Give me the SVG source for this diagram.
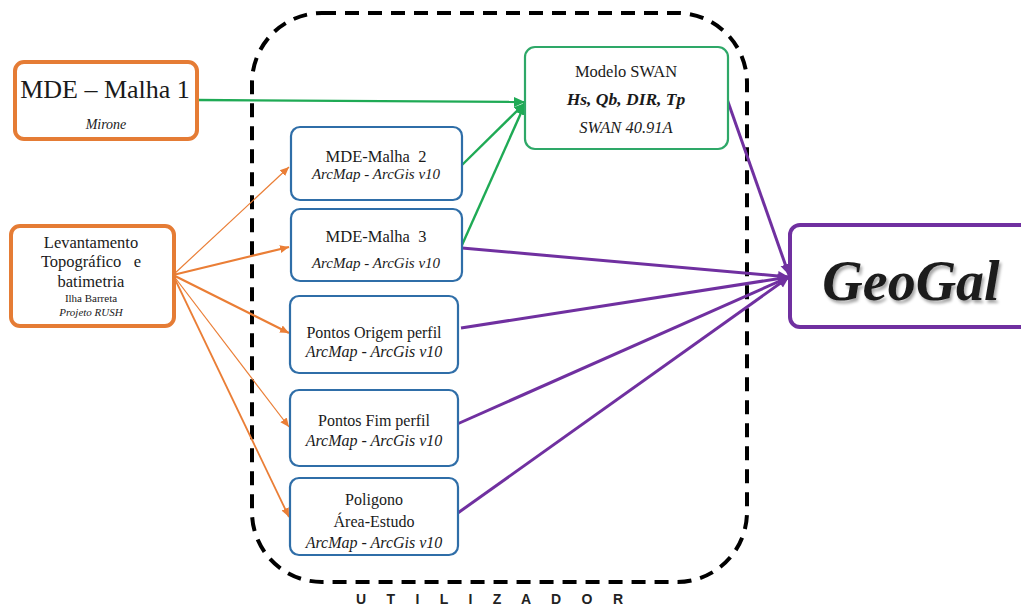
<svg xmlns="http://www.w3.org/2000/svg" width="1021" height="605" viewBox="0 0 1021 605">
  <style>
    .tx { font-family: 'Liberation Serif', 'Times New Roman', 'DejaVu Serif', serif; fill: #1a1a1a; }
    .it { font-style: italic; }
    .orange { fill: #ffffff; stroke: #e57c35; stroke-width: 4; }
    .blue { fill: #ffffff; stroke: #2f6ea8; stroke-width: 2.2; }
    .green { fill: #ffffff; stroke: #2ea868; stroke-width: 2.2; }
    .purple { fill: #ffffff; stroke: #7030a0; stroke-width: 4; }
    .c-or { stroke: #ea7e36; fill: none; }
    .c-gr { stroke: #1faa55; stroke-width: 2.4; fill: none; }
    .c-pu { stroke: #7030a0; stroke-width: 3; fill: none; }
  </style>
  <defs>
    <marker id="ah-or" markerUnits="userSpaceOnUse" markerWidth="10" markerHeight="10" refX="9" refY="5" orient="auto">
      <path d="M0,1 L9,5 L0,9 z" fill="#ea7e36"/>
    </marker>
    <marker id="ah-gr" markerUnits="userSpaceOnUse" markerWidth="12" markerHeight="12" refX="11" refY="6" orient="auto">
      <path d="M0,1 L11,6 L0,11 z" fill="#1faa55"/>
    </marker>
    <marker id="ah-pu" markerUnits="userSpaceOnUse" markerWidth="12" markerHeight="12" refX="11" refY="6" orient="auto">
      <path d="M0,1 L11,6 L0,11 z" fill="#7030a0"/>
    </marker>
    <filter id="shadow" x="-10%" y="-20%" width="130%" height="150%">
      <feDropShadow dx="2" dy="3" stdDeviation="1.5" flood-color="#000" flood-opacity="0.35"/>
    </filter>
  </defs>

  <rect width="1021" height="605" fill="#ffffff"/>

  <!-- user boundary -->
  <g id="utilizador">
    <rect x="252" y="13" width="495" height="569" rx="70" ry="70" fill="none" stroke="#000" stroke-width="4" stroke-dasharray="14 9"/>
    <text x="356" y="604" textLength="267" lengthAdjust="spacing" font-family="'Liberation Sans', Arial, sans-serif" font-size="14" font-weight="bold" fill="#222">U T I L I Z A D O R</text>
  </g>

  <!-- connectors -->
  <g id="connectors">
    <line class="c-or" x1="173" y1="275" x2="289" y2="167" stroke="#f2b48a" stroke-width="1.2" marker-end="url(#ah-or)"/>
    <line class="c-or" x1="173" y1="275" x2="289" y2="247" stroke-width="2.2" marker-end="url(#ah-or)"/>
    <line class="c-or" x1="173" y1="275" x2="289" y2="333" stroke-width="2.2" marker-end="url(#ah-or)"/>
    <line class="c-or" x1="173" y1="275" x2="289" y2="427" stroke="#f0b088" stroke-width="1.2" marker-end="url(#ah-or)"/>
    <line class="c-or" x1="173" y1="275" x2="289" y2="517" stroke-width="1.8" marker-end="url(#ah-or)"/>

    <line class="c-gr" x1="197" y1="100" x2="525" y2="102" marker-end="url(#ah-gr)"/>
    <line class="c-gr" x1="462" y1="165" x2="525" y2="103" marker-end="url(#ah-gr)"/>
    <line class="c-gr" x1="462" y1="245" x2="525" y2="104" marker-end="url(#ah-gr)"/>

    <line class="c-pu" x1="727" y1="99" x2="789" y2="275" marker-end="url(#ah-pu)"/>
    <line class="c-pu" x1="462" y1="248" x2="789" y2="277" marker-end="url(#ah-pu)"/>
    <line class="c-pu" x1="461" y1="328" x2="789" y2="277" marker-end="url(#ah-pu)"/>
    <line class="c-pu" x1="455" y1="425" x2="789" y2="277" marker-end="url(#ah-pu)"/>
    <line class="c-pu" x1="455" y1="515" x2="789" y2="277" marker-end="url(#ah-pu)"/>
  </g>

  <g id="mde-malha-1">
    <rect class="orange" x="15" y="62" width="182" height="77" rx="9"/>
    <text class="tx" x="105" y="98" font-size="26" text-anchor="middle">MDE – Malha 1</text>
    <text class="tx it" x="106" y="129" font-size="14" text-anchor="middle">Mirone</text>
  </g>

  <g id="levantamento">
    <rect class="orange" x="11" y="226" width="163" height="100" rx="9"/>
    <text class="tx" x="91" y="248" font-size="16.5" text-anchor="middle">Levantamento</text>
    <text class="tx" x="91" y="267" font-size="16.5" text-anchor="middle" xml:space="preserve">Topográfico   e</text>
    <text class="tx" x="91" y="287" font-size="16.5" text-anchor="middle">batimetria</text>
    <text class="tx" x="91" y="302" font-size="11" text-anchor="middle">Ilha Barreta</text>
    <text class="tx it" x="91" y="316" font-size="11" text-anchor="middle">Projeto RUSH</text>
  </g>

  <g id="mde-malha-2">
    <rect class="blue" x="291" y="127" width="171" height="73" rx="9"/>
    <text class="tx" x="376" y="162" font-size="16.5" text-anchor="middle" xml:space="preserve">MDE-Malha  2</text>
    <text class="tx it" x="376" y="179" font-size="15" text-anchor="middle">ArcMap - ArcGis v10</text>
  </g>

  <g id="mde-malha-3">
    <rect class="blue" x="291" y="209" width="171" height="72" rx="9"/>
    <text class="tx" x="376" y="242" font-size="16.5" text-anchor="middle" xml:space="preserve">MDE-Malha  3</text>
    <text class="tx it" x="376" y="268" font-size="15" text-anchor="middle">ArcMap - ArcGis v10</text>
  </g>

  <g id="pontos-origem">
    <rect class="blue" x="290" y="296" width="168" height="77" rx="9"/>
    <text class="tx" x="374" y="338" font-size="16" text-anchor="middle">Pontos Origem perfil</text>
    <text class="tx it" x="374" y="357" font-size="16" text-anchor="middle">ArcMap - ArcGis v10</text>
  </g>

  <g id="pontos-fim">
    <rect class="blue" x="290" y="390" width="168" height="76" rx="9"/>
    <text class="tx" x="374" y="426" font-size="16" text-anchor="middle">Pontos Fim perfil</text>
    <text class="tx it" x="374" y="446" font-size="16" text-anchor="middle">ArcMap - ArcGis v10</text>
  </g>

  <g id="poligono">
    <rect class="blue" x="290" y="478" width="168" height="77" rx="9"/>
    <text class="tx" x="374" y="505" font-size="16" text-anchor="middle">Poligono</text>
    <text class="tx" x="374" y="527" font-size="16" text-anchor="middle">Área-Estudo</text>
    <text class="tx it" x="374" y="548" font-size="16" text-anchor="middle">ArcMap - ArcGis v10</text>
  </g>

  <g id="modelo-swan">
    <rect class="green" x="525" y="47" width="203" height="102" rx="10"/>
    <text class="tx" x="626" y="77" font-size="16.5" text-anchor="middle">Modelo SWAN</text>
    <text class="tx it" x="626" y="105" font-size="17.5" font-weight="bold" text-anchor="middle">Hs, Qb, DIR, Tp</text>
    <text class="tx it" x="626" y="133" font-size="16.5" text-anchor="middle">SWAN 40.91A</text>
  </g>

  <g id="geogal">
    <rect class="purple" x="790" y="225" width="250" height="102" rx="10"/>
    <text class="tx it" x="911" y="300" font-size="56" font-weight="bold" text-anchor="middle" fill="#000" filter="url(#shadow)">GeoGal</text>
  </g>
</svg>
